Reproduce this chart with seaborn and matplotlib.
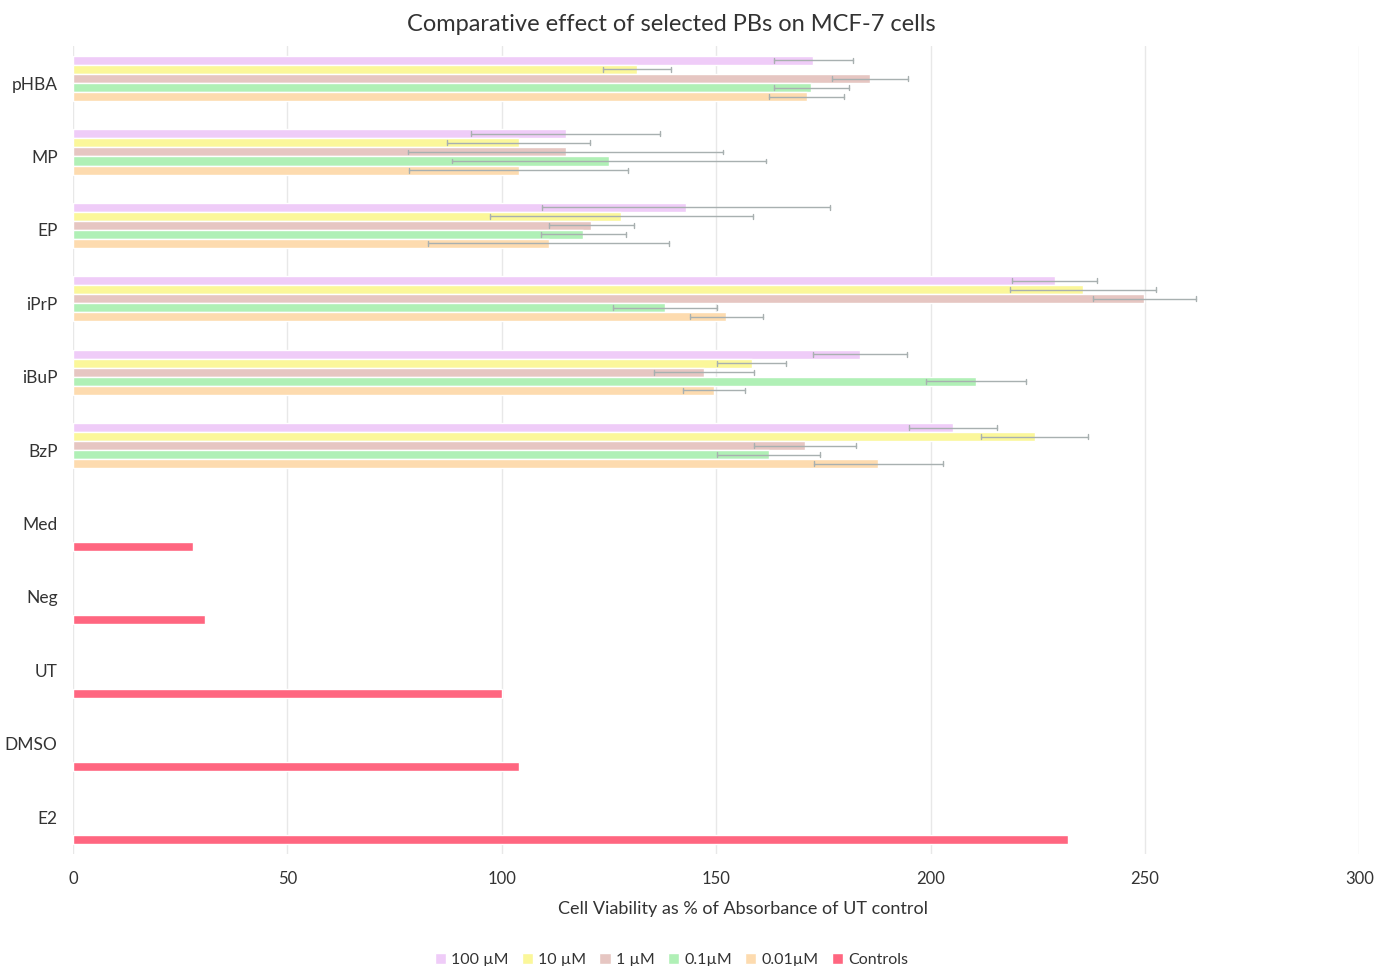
import numpy as np
import pandas as pd
import seaborn as sns
import matplotlib.pyplot as plt

compounds = ["pHBA", "MP", "EP", "iPrP", "iBuP", "BzP"]
controls = ["Med", "Neg", "UT", "DMSO", "E2"]
concentrations = ["100 µM", "10 µM", "1 µM", "0.1µM", "0.01µM"]

# mean viability per compound, one list per concentration
v_100 = [172.6, 114.9, 143.0, 228.9, 183.5, 205.2]
v_10 = [131.5, 103.9, 127.9, 235.6, 158.3, 224.3]
v_1 = [185.9, 114.9, 120.9, 249.8, 147.2, 170.7]
v_01 = [172.2, 125.0, 119.0, 138.0, 210.6, 162.3]
v_001 = [171.1, 103.9, 110.9, 152.3, 149.5, 187.8]

# error bar half-widths
e_100 = [9.2, 22.0, 33.6, 10.0, 11.0, 10.3]
e_10 = [8.0, 16.6, 30.7, 17.0, 8.0, 12.5]
e_1 = [8.8, 36.7, 10.0, 12.0, 11.6, 12.0]
e_01 = [8.8, 36.7, 9.9, 12.1, 11.6, 12.0]
e_001 = [8.8, 25.5, 28.0, 8.5, 7.3, 15.0]

control_values = [27.9, 30.9, 100.0, 104.0, 232.0]

colors = ["#EFCCF8", "#FBF79A", "#E6C6C2", "#B0F0B6", "#FDDBAF", "#FF6680"]

# long form: two rows per bar (mean -/+ err) so the min/max give the error bar
rows = []
for conc, vals, errs in zip(concentrations,
                            [v_100, v_10, v_1, v_01, v_001],
                            [e_100, e_10, e_1, e_01, e_001]):
    for comp, v, e in zip(compounds, vals, errs):
        rows.append({"sample": comp, "group": conc, "value": v - e})
        rows.append({"sample": comp, "group": conc, "value": v + e})
for ctrl, v in zip(controls, control_values):
    rows.append({"sample": ctrl, "group": "Controls", "value": v})
df = pd.DataFrame(rows)

sns.set_style("white")
plt.rcParams["font.family"] = ["Lato", "DejaVu Sans"]

fig, ax = plt.subplots(figsize=(13.76, 9.66), dpi=100)
fig.subplots_adjust(left=0.053, right=0.988, top=0.952, bottom=0.116)

sns.barplot(data=df, x="value", y="sample", hue="group",
            order=compounds + controls,
            hue_order=concentrations + ["Controls"],
            palette=colors, orient="h", width=0.74, dodge=True,
            errorbar=lambda x: (x.min(), x.max()),
            capsize=0.4, err_kws={"color": "#A8B0B0", "linewidth": 1.0},
            saturation=1, ax=ax)

ax.set_xlim(0, 300)
ax.set_xticks(range(0, 301, 50))
ax.grid(axis="x", color="#E8E8E8", linewidth=1)
ax.set_axisbelow(True)
sns.despine(left=True, bottom=True)
ax.tick_params(axis="both", length=0, labelsize=12, colors="#333333")
ax.tick_params(axis="y", pad=11, labelsize=12.5)
ax.tick_params(axis="x", pad=12)
ax.set_ylabel("")
ax.set_xlabel("Cell Viability as % of Absorbance of UT control",
              fontsize=13, color="#333333")
ax.xaxis.set_label_coords(0.521, -0.058)

fig.suptitle("Comparative effect of selected PBs on MCF-7 cells",
             fontsize=17, color="#333333", x=0.488, y=0.986)

handles, labels = ax.get_legend_handles_labels()
ax.get_legend().remove()
fig.legend(handles, labels, loc="lower center", bbox_to_anchor=(0.488, -0.016),
           ncol=6, frameon=False, fontsize=11.5, handlelength=0.7,
           handleheight=0.7, handletextpad=0.35, columnspacing=0.8,
           labelcolor="#333333")

plt.savefig("out.png", dpi=100)
